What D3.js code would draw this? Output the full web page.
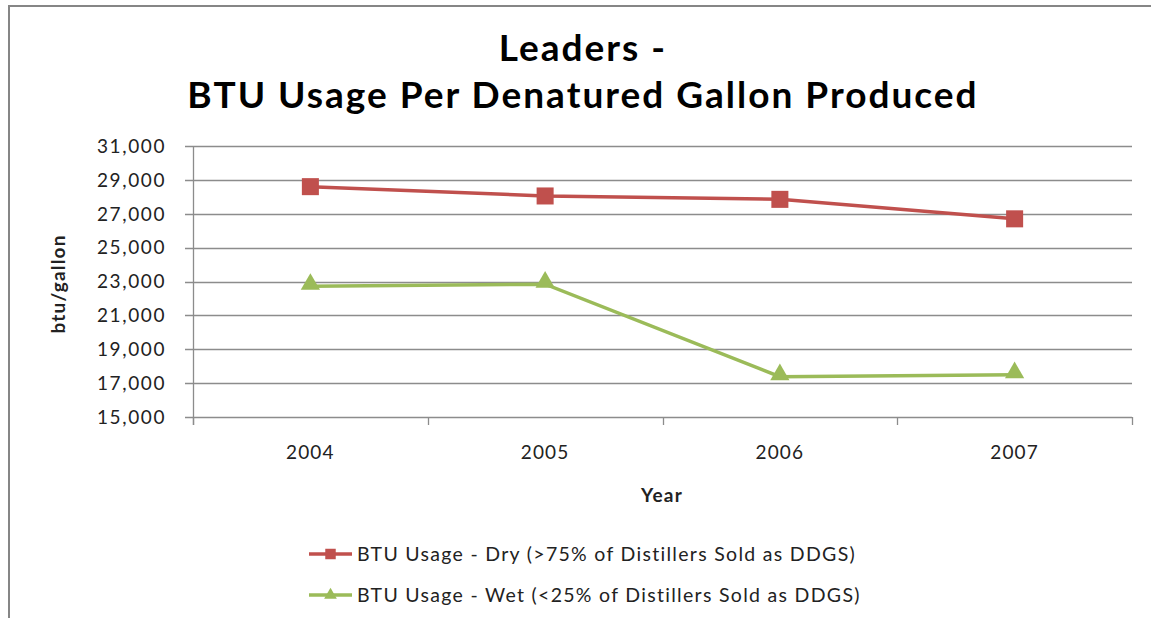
<!DOCTYPE html>
<html>
<head>
<meta charset="utf-8">
<script src="https://cdn.jsdelivr.net/npm/d3@7"></script>
<style>
body { margin: 0; background: #fff; }
text { font-family: Lato, "Open Sans", sans-serif; fill: #222; }
</style>
</head>
<body>
<script>
var years = ["2004", "2005", "2006", "2007"];
var dryValues = [28600, 28050, 27850, 26700];
var wetValues = [22720, 22840, 17380, 17500];
var yTicks = [15000, 17000, 19000, 21000, 23000, 25000, 27000, 29000, 31000];
var seriesNames = ["BTU Usage - Dry (>75% of Distillers Sold as DDGS)",
	"BTU Usage - Wet (<25% of Distillers Sold as DDGS)"];
var seriesColors = ["#C0504D", "#9BBB59"];
var titleLines = ["Leaders -", "BTU Usage Per Denatured Gallon Produced"];

var w = 1151, h = 618;
var svg = d3.select("body").append("svg")
	.attr("width", w)
	.attr("height", h);

// outer frame (only top and left visible)
svg.append("path")
	.attr("d", "M9,618V6H1151")
	.attr("fill", "none")
	.attr("stroke", "#868686")
	.attr("stroke-width", 2);

var x = d3.scaleBand().domain(years).range([193, 1132]);
var y = d3.scaleLinear().domain([15000, 31000]).range([417, 146]);

// gridlines
svg.selectAll(".grid")
	.data(yTicks)
	.enter()
	.append("line")
	.attr("x1", 185)
	.attr("x2", 1132)
	.attr("y1", function(d){return Math.round(y(d)) + 0.5;})
	.attr("y2", function(d){return Math.round(y(d)) + 0.5;})
	.attr("stroke", "#8c8c8c")
	.attr("stroke-width", 1.3);

// y axis line
svg.append("line")
	.attr("x1", 193.5).attr("x2", 193.5)
	.attr("y1", y(31000)).attr("y2", y(15000) + 8)
	.attr("stroke", "#8c8c8c")
	.attr("stroke-width", 1.3);

// x category ticks
var xEdges = years.map(function(d){return x(d);}).concat([x.range()[1]]);
svg.selectAll(".xtick")
	.data(xEdges)
	.enter()
	.append("line")
	.attr("x1", function(d){return Math.round(d) + 0.5;})
	.attr("x2", function(d){return Math.round(d) + 0.5;})
	.attr("y1", y(15000))
	.attr("y2", y(15000) + 8)
	.attr("stroke", "#8c8c8c")
	.attr("stroke-width", 1.3);

var fmt = d3.format(",");
svg.selectAll(".ylab")
	.data(yTicks)
	.enter()
	.append("text")
	.attr("x", 166)
	.attr("y", function(d){return y(d);})
	.attr("dy", "0.36em")
	.attr("text-anchor", "end")
	.style("font-size", "19px")
	.style("letter-spacing", "1.6px")
	.text(function(d){return fmt(d);});

svg.selectAll(".xlab")
	.data(years)
	.enter()
	.append("text")
	.attr("x", function(d){return x(d) + x.bandwidth() / 2;})
	.attr("y", 452)
	.attr("dy", "0.36em")
	.attr("text-anchor", "middle")
	.style("font-size", "19px")
	.style("letter-spacing", "1.2px")
	.text(function(d){return d;});

// axis titles
svg.append("text")
	.attr("transform", "translate(58,284) rotate(-90)")
	.attr("dy", "0.36em")
	.attr("text-anchor", "middle")
	.style("font-size", "19px")
	.style("font-weight", "bold")
	.style("letter-spacing", "1.2px")
	.text("btu/gallon");

svg.append("text")
	.attr("x", 662)
	.attr("y", 495)
	.attr("dy", "0.36em")
	.attr("text-anchor", "middle")
	.style("font-size", "19px")
	.style("font-weight", "bold")
	.style("letter-spacing", "1.2px")
	.text("Year");

// chart title
svg.selectAll(".title")
	.data(titleLines)
	.enter()
	.append("text")
	.attr("x", 583)
	.attr("y", function(d, i){return 61 + i * 47;})
	.attr("text-anchor", "middle")
	.style("font-size", "37px")
	.style("font-weight", "bold")
	.style("letter-spacing", "2px")
	.style("fill", "#000")
	.text(function(d){return d;});

// series lines
var series = [dryValues, wetValues];
var line = d3.line()
	.x(function(d, i){return x(years[i]) + x.bandwidth() / 2;})
	.y(function(d){return y(d);});

svg.selectAll(".series")
	.data(series)
	.enter()
	.append("path")
	.attr("d", line)
	.attr("fill", "none")
	.attr("stroke", function(d, i){return seriesColors[i];})
	.attr("stroke-width", 3.5);

var square = d3.symbol().type(d3.symbolSquare).size(290);
var triangle = d3.symbol().type(d3.symbolTriangle).size(160);

svg.selectAll(".dry")
	.data(dryValues)
	.enter()
	.append("path")
	.attr("d", square)
	.attr("transform", function(d, i){return "translate(" + (x(years[i]) + x.bandwidth() / 2) + "," + y(d) + ")";})
	.attr("fill", seriesColors[0]);

svg.selectAll(".wet")
	.data(wetValues)
	.enter()
	.append("path")
	.attr("d", triangle)
	.attr("transform", function(d, i){return "translate(" + (x(years[i]) + x.bandwidth() / 2) + "," + (y(d) - 2) + ")";})
	.attr("fill", seriesColors[1]);

// legend
var legend = svg.selectAll(".legend")
	.data(seriesNames)
	.enter()
	.append("g")
	.attr("transform", function(d, i){return "translate(309," + (554 + i * 41) + ")";});

legend.append("line")
	.attr("x1", 0).attr("x2", 43)
	.attr("stroke", function(d, i){return seriesColors[i];})
	.attr("stroke-width", 3.5);

legend.append("path")
	.attr("d", function(d, i){return i === 0 ? d3.symbol().type(d3.symbolSquare).size(110)() : d3.symbol().type(d3.symbolTriangle).size(70)();})
	.attr("transform", "translate(21.5,0)")
	.attr("fill", function(d, i){return seriesColors[i];});

legend.append("text")
	.attr("x", 48)
	.attr("dy", "0.36em")
	.style("font-size", "19.5px")
	.style("letter-spacing", "1.3px")
	.text(function(d){return d;});
</script>
</body>
</html>
